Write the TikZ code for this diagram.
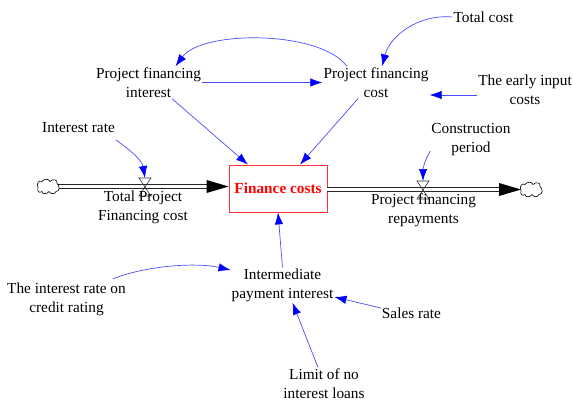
\documentclass[tikz,border=0pt]{standalone}
\usepackage{fontspec}
\setmainfont{Liberation Serif}
\usetikzlibrary{arrows.meta}

\tikzset{
  var/.style={align=center, inner sep=1pt, font=\fontsize{15.3}{19}\selectfont},
  stock/.style={draw=red!80, fill=white, text=red, line width=0.8pt,
    minimum width=98pt, minimum height=47pt, inner sep=0pt,
    font=\fontsize{15.3}{19}\selectfont\bfseries},
  link/.style={draw=blue!70, line width=0.7pt,
    -{Latex[length=12pt,width=8.5pt,color=blue,fill=blue]}},
  pipe/.style={draw=black!85, line width=1.1pt, double=white, double distance=2.6pt},
  pipehead/.style={fill=black},
  valve/.pic={\draw[black!80, line width=0.6pt] (-6,-9) -- (6,-9) -- (-6,9) -- (6,9) -- cycle;},
  cloud/.pic={\draw[black, line width=0.6pt, fill=white]
    (-10,1) .. controls (-12,-3) and (-9,-7) .. (-6,-5)
    .. controls (-4,-8) and (1,-8) .. (2,-5)
    .. controls (5,-8) and (10,-7) .. (9,-3)
    .. controls (12,-1) and (12,5) .. (8,5)
    .. controls (7,8) and (3,8) .. (1,5)
    .. controls (-1,8) and (-6,8) .. (-6,5)
    .. controls (-9,7) and (-11,5) .. (-10,1) -- cycle;}
}

\begin{document}
\begin{tikzpicture}[x=1pt, y=-1pt]
\useasboundingbox (0,0) rectangle (573,402);

% stock, sources and sinks
\node[stock] (fc) at (278,188.5) {Finance costs};
\coordinate (c1) at (48,186.5);
\coordinate (c2) at (531,189.5);
\coordinate (v1) at (145,187);
\coordinate (v2) at (423,190);

% inflow pipe
\draw[pipe] ([xshift=10pt]c1) -- ([xshift=-20pt,yshift=2pt]fc.west);
\fill[pipehead] ([yshift=2pt]fc.west) -- ++(-22,-6.5) -- ++(0,13) -- cycle;
% outflow pipe
\draw[pipe] ([yshift=-1pt]fc.east) -- ([xshift=-29pt]c2);
\fill[pipehead] ([xshift=-10pt]c2) -- ++(-22,-6.5) -- ++(0,13) -- cycle;

\pic at (c1) {cloud};
\pic at (c2) {cloud};
\pic at (v1) {valve};
\pic at (v2) {valve};

% auxiliary variables
\node[var] (ir)  at (78.5,128)   {Interest rate};
\node[var] (pfi) at (148.5,82.5) {Project financing\\interest};
\node[var] (pfc) at (376,82.5)   {Project financing\\cost};
\node[var] (tc)  at (483.5,17)   {Total cost};
\node[var] (eic) at (525,89.5)   {The early input\\costs};
\node[var] (cp)  at (471,140)    {Construction\\period};
\node[var] (tpf) at (143,207)    {Total Project\\Financing cost};
\node[var] (pfr) at (423.5,210)  {Project financing\\repayments};
\node[var] (cr)  at (66.5,299.5) {The interest rate on\\credit rating};
\node[var] (imi) at (282.5,285)  {Intermediate\\payment interest};
\node[var] (sr)  at (411.5,313)  {Sales rate};
\node[var] (lim) at (324,383.5)  {Limit of no\\interest loans};

% causal links
\draw[link] (pfi.east) -- (pfc.west);
\draw[link] ([xshift=-29pt]pfc.north) .. controls (320,30) and (202,30) .. ([xshift=27pt]pfi.north);
\draw[link] (tc.west) .. controls (418,14) and (390,36) .. ([xshift=6pt]pfc.north);
\draw[link] ([yshift=-5.5pt]eic.west) -- ([yshift=-12.5pt]pfc.east);
\draw[link] ([xshift=23.5pt]pfi.south) -- ([xshift=-30pt]fc.north);
\draw[link] ([xshift=-18pt]pfc.south) -- ([xshift=22pt]fc.north);
\draw[link] ([yshift=-12pt]ir.east) .. controls (130,150) and (142,160) .. ([yshift=9pt]v1);
\draw[link] ([yshift=-11pt]cp.west) .. controls (425,160) and (423,168) .. ([yshift=9pt]v2);
\draw[link] (imi.north) -- (fc.south);
\draw[link] ([xshift=46.5pt,yshift=3pt]cr.north) .. controls (145,266) and (195,262) .. ([yshift=15pt]imi.west);
\draw[link] ([yshift=5pt]sr.west) -- ([yshift=-12pt]imi.east);
\draw[link] ([xshift=-6pt]lim.north) -- ([xshift=10pt]imi.south);
\end{tikzpicture}
\end{document}
